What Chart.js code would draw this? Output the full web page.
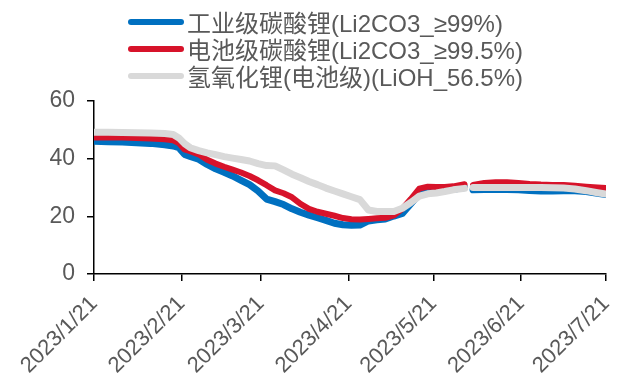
<!DOCTYPE html>
<html>
<head>
<meta charset="utf-8">
<script src="https://cdn.jsdelivr.net/npm/chart.js@4.4.0/dist/chart.umd.min.js"></script>
<style>
    html, body { margin: 0; padding: 0; background: #fff; }
    #wrap { position: relative; width: 622px; height: 385px; }
    #chart { display: block; }
    #legend {
        position: absolute; left: 128px; top: 8px;
        font: 24px "Liberation Sans", "Noto Sans CJK SC", sans-serif;
        color: #595959;
    }
    .item { display: flex; align-items: center; height: 27px; white-space: nowrap; }
    .swatch { width: 56px; height: 6px; border-radius: 3px; margin-right: 3px; }
</style>
</head>
<body>
<div id="wrap">
    <canvas id="chart" width="622" height="385"></canvas>
    <div id="legend"></div>
</div>
<script>
    // days counted from 2023/1/21, null = no quote that day
    var days = [0, 5, 10, 15, 20, 25, 28, 30, 32, 34, 37, 40, 43, 46, 49, 52, 55, 58, 61, 64, 67, 70, 73, 76, 79,
        82, 85, 88, 91, 94, 97, 100, 103, 106, 109, 112, 115, 118, 121, 124, 127, 131, 132, 134, 138, 142, 146,
        150, 154, 158, 162, 166, 170, 174, 178, 181];

    var industrial = [46.0, 45.9, 45.8, 45.5, 45.3, 44.8, 44.4, 43.8, 41.5, 40.8, 39.8, 38.0, 36.5, 35.3, 34.0,
        32.5, 31.0, 28.8, 26.0, 25.1, 24.1, 22.6, 21.4, 20.4, 19.5, 18.6, 17.6, 17.1, 16.9, 17.0, 18.4, 18.8,
        19.1, 20.1, 21.0, 24.4, 27.8, 29.6, 29.6, 29.5, 29.4, 30.0, null, 29.2, 29.3, 29.3, 29.3, 29.2, 29.0,
        28.8, 28.8, 28.9, 28.9, 28.6, 28.0, 27.6];

    var battery = [47.3, 47.3, 47.3, 47.2, 47.0, 46.7, 46.4, 45.4, 43.2, 42.6, 41.5, 39.6, 38.3, 37.2, 36.2,
        35.2, 34.0, 32.5, 30.8, 29.0, 28.0, 26.6, 24.3, 22.6, 21.6, 20.9, 20.2, 19.4, 19.0, 18.9, 19.1, 19.3,
        19.5, 20.3, 22.6, 26.0, 29.6, 30.3, 30.2, 30.2, 30.4, 31.1, null, 30.9, 31.6, 31.8, 31.8, 31.6, 31.2,
        31.0, 30.9, 30.9, 30.6, 30.3, 30.0, 29.8];

    var hydroxide = [49.2, 49.2, 49.1, 49.0, 48.9, 48.7, 48.4, 47.2, 45.2, 43.8, 42.8, 42.0, 41.4, 40.7, 40.2,
        39.7, 39.2, 38.3, 37.6, 37.5, 36.1, 34.6, 33.4, 32.1, 31.0, 29.8, 28.8, 27.8, 26.8, 25.8, 22.2, 21.7,
        21.7, 21.7, 22.8, 24.8, 27.0, 27.8, 28.1, 28.6, 29.2, 29.7, null, 30.0, 30.0, 30.0, 30.0, 30.0, 30.0,
        30.0, 29.9, 29.8, 29.5, 28.9, 28.2, 27.7];

    var tickDays = [0, 31, 59, 90, 120, 151, 181];
    var tickLabels = ["2023/1/21", "2023/2/21", "2023/3/21", "2023/4/21", "2023/5/21", "2023/6/21", "2023/7/21"];
    var seriesNames = ["工业级碳酸锂(Li2CO3_≥99%)", "电池级碳酸锂(Li2CO3_≥99.5%)", "氢氧化锂(电池级)(LiOH_56.5%)"];
    var seriesColors = ["#0070C0", "#D7132A", "#D9D9D9"];

    var fontFamily = '"Liberation Sans", "Noto Sans CJK SC", sans-serif';

    function toPoints(values) {
        return days.map(function(d, i) {
            return { x: d, y: values[i] };
        });
    }

    var ctx = document.getElementById("chart").getContext("2d");
    var myChart = new Chart(ctx, {
        type: "line",
        data: {
            datasets: [
                { label: seriesNames[0], data: toPoints(industrial), borderColor: seriesColors[0], borderWidth: 7, order: 2 },
                { label: seriesNames[1], data: toPoints(battery), borderColor: seriesColors[1], borderWidth: 6, order: 1 },
                { label: seriesNames[2], data: toPoints(hydroxide), borderColor: seriesColors[2], borderWidth: 7, order: 0 }
            ]
        },
        options: {
            responsive: false,
            animation: false,
            devicePixelRatio: 1,
            layout: { padding: { top: 101, right: 16, left: 0, bottom: 0 } },
            elements: {
                point: { radius: 0 },
                line: { tension: 0, borderCapStyle: "round", borderJoinStyle: "round", fill: false }
            },
            plugins: {
                legend: { display: false },
                tooltip: { enabled: false }
            },
            scales: {
                x: {
                    type: "linear",
                    min: 0,
                    max: 181,
                    afterBuildTicks: function(scale) {
                        scale.ticks = tickDays.map(function(v) { return { value: v }; });
                    },
                    afterFit: function(scale) {
                        scale.height = 111;
                        scale.paddingRight = 0;
                    },
                    ticks: {
                        autoSkip: false,
                        minRotation: 45,
                        maxRotation: 45,
                        padding: 10,
                        color: "#595959",
                        font: { family: fontFamily, size: 22 },
                        callback: function(value) {
                            return tickLabels[tickDays.indexOf(value)];
                        }
                    },
                    grid: { drawOnChartArea: false, drawTicks: true, tickLength: 7, color: "#000", lineWidth: 1.5 },
                    border: { color: "#000", width: 1.5 }
                },
                y: {
                    min: 0,
                    max: 60,
                    afterFit: function(scale) {
                        scale.width = 94;
                    },
                    ticks: {
                        stepSize: 20,
                        padding: 12,
                        color: "#595959",
                        font: { family: fontFamily, size: 23 }
                    },
                    grid: { drawOnChartArea: false, drawTicks: true, tickLength: 7, color: "#000", lineWidth: 1.5 },
                    border: { color: "#000", width: 1.5 }
                }
            }
        }
    });

    // legend kept in html so rows line up on the left like the original
    var legendEl = document.getElementById("legend");
    myChart.data.datasets.forEach(function(ds, i) {
        var row = document.createElement("div");
        row.className = "item";
        var sw = document.createElement("span");
        sw.className = "swatch";
        sw.style.background = seriesColors[i];
        var txt = document.createElement("span");
        txt.textContent = ds.label;
        row.appendChild(sw);
        row.appendChild(txt);
        legendEl.appendChild(row);
    });
</script>
</body>
</html>
